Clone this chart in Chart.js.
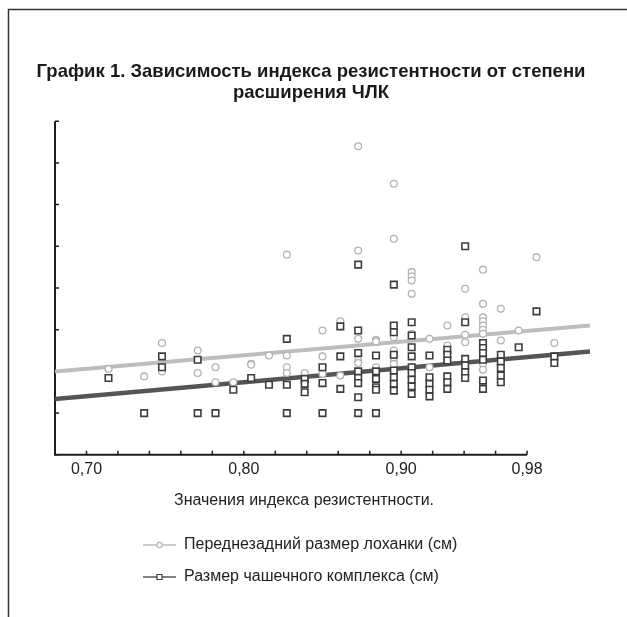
<!DOCTYPE html>
<html>
<head>
<meta charset="utf-8">
<script src="https://cdn.jsdelivr.net/npm/chart.js@4"></script>
<style>
  body { margin: 0; background: #fff; }
  canvas { display: block; }
</style>
</head>
<body>
<canvas id="chart" width="627" height="617"></canvas>
<script>
const FONT = '"Liberation Sans", Arial, sans-serif';

const titleLines = ['График 1. Зависимость индекса резистентности от степени', 'расширения ЧЛК'];
const xTitle = 'Значения индекса резистентности.';
const pelvisLabel = 'Переднезадний размер лоханки (см)';
const calyxLabel = 'Размер чашечного комплекса (см)';

// tick marks on the printed axis, and which of them carry a label
const xTickValues = [0.68, 0.70, 0.72, 0.74, 0.76, 0.78, 0.80, 0.82, 0.84, 0.86, 0.88, 0.90, 0.92, 0.94, 0.96, 0.98];
const xLabelValues = [0.70, 0.80, 0.90, 0.98];
const yTickValues = [0, 0.5, 1, 1.5, 2, 2.5, 3, 3.5, 4];

// pelvis (circles)
const pelvisX = [0.71, 0.73, 0.74, 0.74, 0.76, 0.76, 0.77, 0.77, 0.78, 0.79, 0.79, 0.80,
  0.81, 0.81, 0.81, 0.81, 0.82, 0.83, 0.83, 0.83, 0.84, 0.84,
  0.85, 0.85, 0.85, 0.85, 0.85, 0.86, 0.86, 0.86,
  0.87, 0.87, 0.87, 0.87, 0.87, 0.87, 0.88, 0.88, 0.88, 0.88, 0.88, 0.88,
  0.89, 0.89, 0.90, 0.90, 0.91, 0.91, 0.91, 0.91,
  0.92, 0.92, 0.92, 0.92, 0.92, 0.92, 0.92, 0.92, 0.92,
  0.93, 0.93, 0.94, 0.95, 0.96];
const pelvisY = [1.03, 0.94, 1.34, 1.00, 1.25, 0.98, 1.05, 0.87, 0.87, 1.09, 1.08, 1.19,
  2.40, 1.19, 1.05, 0.98, 0.98, 1.49, 1.18, 0.97, 1.60, 0.95,
  3.70, 2.45, 1.39, 1.13, 1.10, 1.38, 1.36, 1.05,
  3.25, 2.59, 1.41, 1.25, 1.12, 1.09, 2.19, 2.14, 2.09, 1.93, 1.45, 1.05,
  1.39, 1.05, 1.55, 1.31, 1.99, 1.65, 1.44, 1.35,
  2.22, 1.81, 1.65, 1.60, 1.55, 1.50, 1.45, 1.09, 1.02,
  1.75, 1.37, 1.49, 2.37, 1.34];

// calyx (squares)
const calyxX = [0.71, 0.73, 0.74, 0.74, 0.76, 0.76, 0.77, 0.78, 0.79, 0.80,
  0.81, 0.81, 0.81, 0.82, 0.82, 0.82, 0.83, 0.83, 0.83, 0.84, 0.84, 0.84,
  0.85, 0.85, 0.85, 0.85, 0.85, 0.85, 0.85, 0.85,
  0.86, 0.86, 0.86, 0.86, 0.86, 0.86,
  0.87, 0.87, 0.87, 0.87, 0.87, 0.87, 0.87, 0.87,
  0.88, 0.88, 0.88, 0.88, 0.88, 0.88, 0.88, 0.88, 0.88,
  0.89, 0.89, 0.89, 0.89, 0.89,
  0.90, 0.90, 0.90, 0.90, 0.90, 0.90,
  0.91, 0.91, 0.91, 0.91, 0.91, 0.91,
  0.92, 0.92, 0.92, 0.92, 0.92, 0.92,
  0.93, 0.93, 0.93, 0.93, 0.93, 0.94, 0.95, 0.96, 0.96];
const calyxY = [0.92, 0.50, 1.18, 1.05, 1.14, 0.50, 0.50, 0.78, 0.92, 0.84,
  1.39, 0.84, 0.50, 0.91, 0.85, 0.75, 1.05, 0.86, 0.50, 1.54, 1.18, 0.79,
  2.28, 1.49, 1.22, 1.00, 0.92, 0.86, 0.69, 0.50,
  1.19, 1.00, 0.91, 0.81, 0.78, 0.50,
  2.04, 1.55, 1.47, 1.20, 1.01, 0.93, 0.85, 0.77,
  1.59, 1.43, 1.29, 1.18, 1.05, 0.98, 0.90, 0.82, 0.73,
  1.19, 0.93, 0.85, 0.78, 0.70,
  1.26, 1.20, 1.13, 0.94, 0.87, 0.79,
  2.50, 1.59, 1.15, 1.07, 0.99, 0.92,
  1.34, 1.28, 1.22, 1.14, 0.89, 0.79,
  1.20, 1.12, 1.04, 0.95, 0.87, 1.29, 1.72, 1.18, 1.10];

// fitted lines, end points
const trendX = [0.68, 0.98];
const trendPelvis = [1.00, 1.55];
const trendCalyx = [0.67, 1.24];

const PELVIS_COLOR = '#b3b3b3';
const PELVIS_LINE = '#bdbdbd';
const CALYX_COLOR = '#3d3d3d';
const CALYX_LINE = '#555555';
const AXIS_COLOR = '#1e1e1e';

function toPoints(xs, ys) {
  return xs.map((x, i) => ({ x: x, y: ys[i] }));
}

function fmt(v) {
  return v.toFixed(2).replace('.', ',');
}

// frame around the figure
const framePlugin = {
  id: 'frame',
  beforeDraw(chart) {
    const ctx = chart.ctx;
    ctx.save();
    ctx.strokeStyle = '#333';
    ctx.lineWidth = 1.5;
    ctx.beginPath();
    ctx.moveTo(8.5, chart.height);
    ctx.lineTo(8.5, 9.5);
    ctx.lineTo(chart.width, 9.5);
    ctx.stroke();
    ctx.restore();
  }
};

// axis lines with short inward ticks
const axesPlugin = {
  id: 'axes',
  beforeDatasetsDraw(chart) {
    const ctx = chart.ctx;
    const xt = chart.scales.xt;
    const y = chart.scales.y;
    const left = xt.getPixelForValue(xTickValues[0]);
    const right = xt.getPixelForValue(xTickValues[xTickValues.length - 1]);
    const bottom = y.getPixelForValue(yTickValues[0]);
    const top = y.getPixelForValue(yTickValues[yTickValues.length - 1]);
    ctx.save();
    ctx.strokeStyle = AXIS_COLOR;
    ctx.lineWidth = 2;
    ctx.beginPath();
    ctx.moveTo(left, top);
    ctx.lineTo(left, bottom);
    ctx.lineTo(right, bottom);
    ctx.stroke();
    ctx.lineWidth = 1.5;
    ctx.beginPath();
    xTickValues.forEach(v => {
      const px = xt.getPixelForValue(v);
      ctx.moveTo(px, bottom);
      ctx.lineTo(px, bottom - 4);
    });
    yTickValues.forEach(v => {
      const py = y.getPixelForValue(v);
      ctx.moveTo(left, py);
      ctx.lineTo(left + 4, py);
    });
    ctx.stroke();
    ctx.restore();
  }
};

// axis caption and the legend under it
const captionPlugin = {
  id: 'caption',
  afterDraw(chart) {
    const ctx = chart.ctx;
    ctx.save();
    ctx.fillStyle = '#222';
    ctx.font = '16px ' + FONT;
    ctx.textBaseline = 'middle';
    ctx.textAlign = 'center';
    ctx.fillText(xTitle, 304, 501);

    const rows = [
      { text: pelvisLabel, line: PELVIS_LINE, color: PELVIS_COLOR, style: 'circle', y: 545 },
      { text: calyxLabel, line: CALYX_LINE, color: CALYX_COLOR, style: 'rect', y: 577 }
    ];
    rows.forEach(r => {
      ctx.strokeStyle = r.line;
      ctx.lineWidth = 1.3;
      ctx.beginPath();
      ctx.moveTo(143, r.y);
      ctx.lineTo(176, r.y);
      ctx.stroke();
      ctx.fillStyle = '#fff';
      ctx.strokeStyle = r.color;
      ctx.lineWidth = 1.2;
      ctx.beginPath();
      if (r.style === 'circle') {
        ctx.arc(159.5, r.y, 2.6, 0, Math.PI * 2);
      } else {
        ctx.rect(157, r.y - 2.5, 5, 5);
      }
      ctx.fill();
      ctx.stroke();
      ctx.fillStyle = '#222';
      ctx.textAlign = 'left';
      ctx.fillText(r.text, 184, r.y);
    });
    ctx.restore();
  }
};

const hiddenAxis = {
  display: true,
  ticks: { display: false },
  grid: { display: false },
  border: { display: false }
};

new Chart(document.getElementById('chart'), {
  type: 'scatter',
  data: {
    datasets: [
      {
        label: calyxLabel,
        data: toPoints(calyxX, calyxY),
        xAxisID: 'x',
        yAxisID: 'y',
        pointStyle: 'rect',
        pointRadius: 4.6,
        borderColor: CALYX_COLOR,
        backgroundColor: '#fff',
        borderWidth: 1.6
      },
      {
        label: pelvisLabel,
        data: toPoints(pelvisX, pelvisY),
        xAxisID: 'x',
        yAxisID: 'y',
        pointStyle: 'circle',
        pointRadius: 3.4,
        borderColor: PELVIS_COLOR,
        backgroundColor: '#fff',
        borderWidth: 1.3
      },
      {
        type: 'line',
        data: toPoints(trendX, trendPelvis),
        xAxisID: 'x',
        yAxisID: 'y',
        borderColor: PELVIS_LINE,
        borderWidth: 4,
        pointRadius: 0
      },
      {
        type: 'line',
        data: toPoints(trendX, trendCalyx),
        xAxisID: 'x',
        yAxisID: 'y',
        borderColor: CALYX_LINE,
        borderWidth: 4.5,
        pointRadius: 0
      }
    ]
  },
  options: {
    responsive: false,
    animation: false,
    layout: { padding: { left: 0, right: 5, top: 0, bottom: 133 } },
    plugins: {
      legend: { display: false },
      tooltip: { enabled: false },
      title: {
        display: true,
        text: titleLines,
        color: '#1a1a1a',
        font: { family: FONT, size: 18.5, weight: 'bold', lineHeight: 1.1 },
        padding: { top: 62, bottom: 18.5 }
      }
    },
    scales: {
      // scale the points are plotted on
      x: { type: 'linear', display: false, min: 0.68, max: 0.98 },
      y: Object.assign({}, hiddenAxis, {
        type: 'linear', position: 'left', min: 0, max: 4,
        afterFit: s => { s.width = 55; }
      }),
      yr: Object.assign({}, hiddenAxis, {
        type: 'linear', position: 'right', min: 0, max: 4,
        afterFit: s => { s.width = 32; }
      }),
      // printed axis, its graduation is narrower than the plot
      xt: {
        type: 'linear',
        position: 'bottom',
        min: 0.68,
        max: 1.02,
        grid: { display: false, drawTicks: false },
        border: { display: false },
        afterBuildTicks: s => { s.ticks = xTickValues.map(v => ({ value: v })); },
        ticks: {
          autoSkip: false,
          maxRotation: 0,
          padding: 5,
          color: '#222',
          font: { family: FONT, size: 16 },
          callback: v => xLabelValues.some(l => Math.abs(l - v) < 1e-6) ? fmt(v) : ''
        }
      }
    }
  },
  plugins: [framePlugin, axesPlugin, captionPlugin]
});
</script>
</body>
</html>
